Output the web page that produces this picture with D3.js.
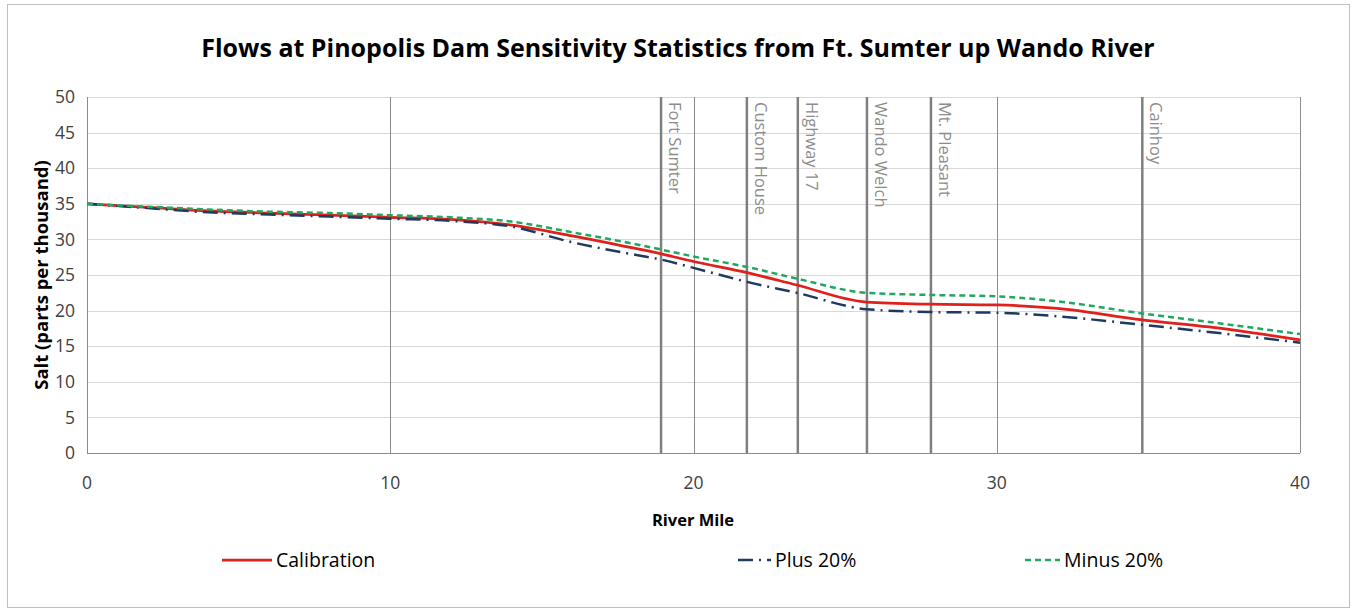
<!DOCTYPE html>
<html><head><meta charset="utf-8">
<script src="https://cdn.jsdelivr.net/npm/d3@7"></script>
<style>body{margin:0;background:#fff}svg{display:block}</style>
</head><body>
<svg id="c" width="1356" height="612"></svg>
<script>
const miles = [0,2,4,6,8,10,12,14,16,18,18.9,20,21.8,23.4,25.7,27.8,30,32,34.8,37,40];
const calibration = [35,34.5,34.0,33.7,33.4,33.1,32.8,32.0,30.5,28.8,28.0,26.9,25.3,23.6,21.2,20.9,20.8,20.3,18.7,17.7,15.9];
const plus20 = [35,34.4,33.8,33.5,33.2,32.9,32.6,31.8,29.6,27.9,27.2,26.0,24.0,22.5,20.2,19.8,19.7,19.2,18.0,17.0,15.5];
const minus20 = [35,34.6,34.2,33.9,33.7,33.4,33.1,32.5,31.0,29.4,28.6,27.6,26.1,24.5,22.5,22.2,22.0,21.3,19.6,18.4,16.7];
const stationNames = ["Fort Sumter","Custom House","Highway 17","Wando Welch","Mt. Pleasant","Cainhoy"];
const stationMiles = [18.93,21.76,23.44,25.72,27.83,34.8];
const xTicks = [0,10,20,30,40];
const yTicks = [0,5,10,15,20,25,30,35,40,45,50];
const seriesNames = ["Calibration","Plus 20%","Minus 20%"];

const svg = d3.select("#c");
const font = "'Open Sans', sans-serif";
svg.append("rect").attr("x",7.5).attr("y",4.5).attr("width",1342).attr("height",603)
  .attr("fill","#fff").attr("stroke","#bfbfbf").attr("stroke-width",1);

const x = d3.scaleLinear().domain([0,40]).range([87,1300]);
const y = d3.scaleLinear().domain([0,50]).range([453,97]);

// horizontal gridlines
svg.append("g").selectAll("line").data(yTicks).join("line")
  .attr("x1",x(0)).attr("x2",x(40)).attr("y1",d=>Math.round(y(d))+0.5).attr("y2",d=>Math.round(y(d))+0.5)
  .attr("stroke","#d9d9d9").attr("stroke-width",1);
// vertical gridlines
svg.append("g").selectAll("line").data(xTicks.slice(1)).join("line")
  .attr("x1",d=>Math.round(x(d))+0.5).attr("x2",d=>Math.round(x(d))+0.5).attr("y1",y(0)).attr("y2",y(50))
  .attr("stroke","#8c8c8c").attr("stroke-width",1);
// axes lines
svg.append("line").attr("x1",x(0)+0.5).attr("x2",x(0)+0.5).attr("y1",y(0)).attr("y2",y(50)).attr("stroke","#8c8c8c");
svg.append("line").attr("x1",x(0)).attr("x2",x(40)).attr("y1",Math.round(y(0))+0.5).attr("y2",Math.round(y(0))+0.5).attr("stroke","#8c8c8c");

// station lines
svg.append("g").selectAll("line").data(stationMiles).join("line")
  .attr("x1",d=>x(d)).attr("x2",d=>x(d)).attr("y1",y(0)).attr("y2",y(50))
  .attr("stroke","#7f7f7f").attr("stroke-width",2.5);
svg.append("g").selectAll("text").data(stationNames).join("text")
  .attr("transform",(d,i)=>`translate(${x(stationMiles[i])+8},${y(50)+5}) rotate(90)`)
  .attr("font-family",font).attr("font-size",16.5).attr("fill","#8c8c8c")
  .text(d=>d);

// tick labels
svg.append("g").selectAll("text").data(yTicks).join("text")
  .attr("x",75).attr("y",d=>y(d)).attr("dy","0.35em").attr("text-anchor","end")
  .attr("font-family",font).attr("font-size",17.5).attr("fill","#404040").text(d=>d);
svg.append("g").selectAll("text").data(xTicks).join("text")
  .attr("x",d=>x(d)).attr("y",489).attr("text-anchor","middle")
  .attr("font-family",font).attr("font-size",17.5).attr("fill","#404040").text(d=>d);

// titles
svg.append("text").attr("x",678).attr("y",57).attr("text-anchor","middle")
  .attr("font-family",font).attr("font-weight","bold").attr("font-size",25).attr("fill","#000")
  .text("Flows at Pinopolis Dam Sensitivity Statistics from Ft. Sumter up Wando River");
svg.append("text").attr("x",693).attr("y",526).attr("text-anchor","middle")
  .attr("font-family",font).attr("font-weight","bold").attr("font-size",16.5).attr("fill","#000").text("River Mile");
svg.append("text").attr("transform","translate(48,275) rotate(-90)").attr("text-anchor","middle")
  .attr("font-family",font).attr("font-weight","bold").attr("font-size",18.5).attr("fill","#000").text("Salt (parts per thousand)");

// series
const line = d3.line().x(d=>x(d[0])).y(d=>y(d[1])).curve(d3.curveMonotoneX);
const styles = [
  {data:calibration,color:"#e0201b",dash:null,w:2.75},
  {data:plus20,color:"#1f3a5f",dash:"15,6,2,6",w:2.5},
  {data:minus20,color:"#21a860",dash:"6,4",w:2.5}
];
styles.forEach(s=>{
  svg.append("path").datum(miles.map((m,i)=>[m,s.data[i]]))
    .attr("d",line).attr("fill","none").attr("stroke",s.color)
    .attr("stroke-width",s.w).attr("stroke-dasharray",s.dash);
});

// legend
const legX = [222,738,1025];
const legW = [50,33,35];
seriesNames.forEach((n,i)=>{
  const s = styles[i];
  svg.append("line").attr("x1",legX[i]).attr("x2",legX[i]+legW[i]).attr("y1",560).attr("y2",560)
    .attr("stroke",s.color).attr("stroke-width",s.w).attr("stroke-dasharray",s.dash);
  svg.append("text").attr("x",legX[i]+legW[i]+4).attr("y",560).attr("dy","0.35em")
    .attr("font-family",font).attr("font-size",19.5).attr("fill","#000").text(n);
});
</script>
</body></html>
